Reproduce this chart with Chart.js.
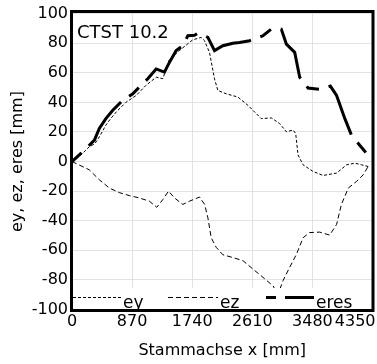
<!DOCTYPE html>
<html>
<head>
<meta charset="utf-8">
<script src="https://cdn.jsdelivr.net/npm/chart.js@4/dist/chart.umd.min.js"></script>
<style>
  html, body { margin: 0; padding: 0; background: #fff; }
  #wrap { width: 377px; height: 364px; }
</style>
</head>
<body>
<div id="wrap"><canvas id="c" width="377" height="364"></canvas></div>
<script>
// ---- data ----
const seriesNames = ['ey', 'ez', 'eres'];
const chartLabel = 'CTST 10.2';
const xTitle = 'Stammachse x [mm]';
const yTitle = 'ey, ez, eres [mm]';
const xTicks = [0, 870, 1740, 2610, 3480, 4350];
const yTicks = [-100, -80, -60, -40, -20, 0, 20, 40, 60, 80, 100];

const eyX = [0, 120, 250, 290, 330, 400, 490, 560, 640, 780, 930, 1070, 1220, 1315, 1410, 1555, 1700, 1749, 1870, 1918, 1990, 2063, 2112, 2233, 2401, 2547, 2740, 2885, 3006, 3103, 3200, 3238, 3272, 3345, 3490, 3635, 3830, 3975, 4095, 4190, 4290];
const eyY = [0, 4, 10, 11, 12, 17, 24.6, 29, 33.5, 40, 44.7, 51.5, 57, 56, 69, 75, 80.5, 82.3, 83.9, 81.7, 73.8, 55.9, 48, 45.8, 43.6, 38, 29, 29.5, 25.7, 20.1, 21.3, 19, 4.5, -2.2, -6.7, -9.4, -7.8, -2.2, -1.1, -2.2, -3.4];

const ezX = [0, 250, 395, 540, 685, 830, 975, 1120, 1227, 1315, 1397, 1484, 1604, 1700, 1846, 1920, 1967, 2015, 2088, 2184, 2330, 2475, 2620, 2765, 2910, 2980, 3055, 3150, 3250, 3345, 3440, 3585, 3730, 3830, 3900, 4000, 4120, 4215, 4295];
const ezY = [0, -5.6, -12.3, -17.9, -21, -23, -24.6, -26.8, -30.9, -25.7, -20, -24.6, -29, -26.8, -24, -29, -38, -51.5, -58, -63, -64.9, -67, -72.7, -78.3, -84, -90, -80.5, -71.6, -62.6, -51.5, -48, -47.7, -49.7, -42.5, -29, -17.9, -13.4, -9, -2.7];

const eresX = [0, 105, 250, 325, 395, 490, 590, 735, 880, 975, 1097, 1218, 1338, 1410, 1508, 1604, 1677, 1773, 1822, 1967, 2063, 2184, 2329, 2425, 2571, 2765, 2885, 3030, 3103, 3224, 3296, 3417, 3576, 3740, 3830, 3950, 4045, 4165, 4275];
const eresY = [0, 4.5, 11, 14.5, 22.4, 29, 34.7, 41.4, 45.8, 50.3, 56, 62.6, 60.4, 67, 75, 78.3, 85, 85.4, 86.8, 83.9, 75, 78.3, 80, 80.5, 81.7, 85, 89.5, 89.5, 79.4, 73.8, 57, 49.7, 48.8, 51, 44.7, 29, 17.9, 11, 5];

// ---- build ----
const pts = (xs, ys) => xs.map((x, i) => ({ x: x, y: ys[i] }));
const FONT = 'DejaVu Sans';
Chart.defaults.font.family = FONT;
Chart.defaults.font.size = 16;
Chart.defaults.color = '#000';

const styles = [
  { width: 1, dash: [3, 2], offset: 0 },
  { width: 1, dash: [5, 3], offset: 0 },
  { width: 3, dash: [55, 10, 13, 10], offset: 65 }
];

const overlay = {
  id: 'overlay',
  afterDatasetsDraw(chart) {
    const ctx = chart.ctx;
    const ca = chart.chartArea;
    const xs = chart.scales.x;
    ctx.save();
    // legend background inside plot
    const legTop = 288;
    ctx.fillStyle = '#fff';
    ctx.fillRect(ca.left, legTop, ca.right - ca.left, ca.bottom - legTop + 2);
    const items = [
      { x0: 73, x1: 122, tx: 123 },
      { x0: 168, x1: 218, tx: 220 },
      { x0: 266, x1: 314, tx: 316 }
    ];
    const legendDash = [[3, 2], [5, 3], [10, 9, 30, 9]];
    ctx.strokeStyle = '#000';
    ctx.fillStyle = '#000';
    ctx.font = '17px "' + FONT + '"';
    ctx.textBaseline = 'alphabetic';
    ctx.textAlign = 'left';
    items.forEach((it, i) => {
      ctx.beginPath();
      ctx.lineWidth = styles[i].width;
      ctx.setLineDash(legendDash[i]);
      ctx.moveTo(it.x0, 297.5);
      ctx.lineTo(it.x1, 297.5);
      ctx.stroke();
      ctx.setLineDash([]);
      ctx.fillText(seriesNames[i], it.tx, 308);
    });
    // chart label
    ctx.font = '18px "' + FONT + '"';
    ctx.fillText(chartLabel, 77, 37.5);
    // frame
    ctx.lineWidth = 3;
    ctx.setLineDash([]);
    ctx.strokeRect(71.5, 11.5, 301.5, 299);
    // x tick labels (last one kept inside the canvas)
    ctx.font = '16px "' + FONT + '"';
    ctx.textAlign = 'left';
    xTicks.forEach(v => {
      const s = String(v);
      const w = ctx.measureText(s).width;
      let left = xs.getPixelForValue(v) - w / 2;
      if (left + w > chart.width - 1.5) left = chart.width - 1.5 - w;
      ctx.fillText(s, left, 325.5);
    });
    ctx.restore();
  }
};

new Chart(document.getElementById('c'), {
  type: 'line',
  data: {
    datasets: [0, 1, 2].map(i => ({
      label: seriesNames[i],
      data: pts([eyX, ezX, eresX][i], [eyY, ezY, eresY][i]),
      borderColor: '#000',
      backgroundColor: '#000',
      borderWidth: styles[i].width,
      borderDash: styles[i].dash,
      borderDashOffset: styles[i].offset,
      pointRadius: 0,
      tension: 0,
      fill: false,
      order: i === 2 ? 0 : 1
    }))
  },
  options: {
    responsive: false,
    animation: false,
    layout: { padding: { top: 11, right: 4.5, left: 0, bottom: 0 } },
    plugins: { legend: { display: false }, tooltip: { enabled: false } },
    scales: {
      x: {
        type: 'linear',
        min: 0, max: 4350,
        afterBuildTicks: s => { s.ticks = xTicks.map(v => ({ value: v })); },
        afterFit: s => { s.height = 54.5; },
        grid: { color: '#e2e2e2', lineWidth: 1, drawTicks: false },
        border: { display: false },
        ticks: { display: false },
        title: { display: true, text: xTitle, color: '#000', font: { size: 16 }, padding: { top: 0, bottom: 4 } }
      },
      y: {
        type: 'linear',
        min: -100, max: 100,
        afterBuildTicks: s => { s.ticks = yTicks.map(v => ({ value: v })); },
        afterFit: s => { s.width = 72; },
        grid: { color: '#e2e2e2', lineWidth: 1, drawTicks: false },
        border: { display: false },
        ticks: { padding: 4, color: '#000', font: { size: 16 } },
        title: { display: true, text: yTitle, color: '#000', font: { size: 16 }, padding: { top: 8, bottom: 0 } }
      }
    }
  },
  plugins: [overlay]
});
</script>
</body>
</html>
